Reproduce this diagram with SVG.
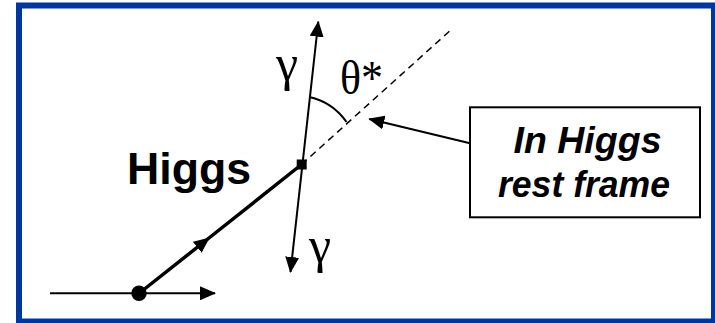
<svg xmlns="http://www.w3.org/2000/svg" width="715" height="323" viewBox="0 0 715 323">
<style>
.ln{stroke:#000;fill:none}
.sym{font-family:"Liberation Serif","Times New Roman",serif;fill:#000}
.lbl{font-family:"Liberation Sans",Arial,sans-serif;font-weight:bold;fill:#000}
</style>
<defs>
<marker id="ah" markerUnits="userSpaceOnUse" viewBox="0 0 16 14" refX="15" refY="7" markerWidth="16" markerHeight="14" orient="auto-start-reverse">
<path d="M0,0 L16,7 L0,14 z" fill="#000"/>
</marker>
</defs>
<rect x="0" y="0" width="715" height="323" fill="#fff"/>
<rect x="19" y="5.5" width="695" height="316" fill="none" stroke="#0036A0" stroke-width="6"/>
<g id="connectors">
<line class="ln" x1="50" y1="293.3" x2="215" y2="293.3" stroke-width="2" marker-end="url(#ah)"/>
<path class="ln" d="M139.5,293 L209,238 L301.5,164.5" stroke-width="3.5" marker-mid="url(#ah)"/>
<line class="ln" x1="290.5" y1="272" x2="318.3" y2="21.7" stroke-width="2" marker-start="url(#ah)" marker-end="url(#ah)"/>
<line class="ln" x1="301.5" y1="164.5" x2="452.7" y2="28.3" stroke-width="1.5" stroke-dasharray="7,5"/>
<path class="ln" d="M309.3,97 A 62 62 0 0 1 346.5,122" stroke-width="2"/>
<line class="ln" x1="470" y1="143.3" x2="369.3" y2="119" stroke-width="2" marker-end="url(#ah)"/>
</g>
<g id="source">
<circle cx="139" cy="293.3" r="7.7" fill="#000"/>
</g>
<g id="vertex">
<rect x="296.7" y="159.5" width="10" height="10" fill="#000"/>
</g>
<g id="labels">
<text class="lbl" x="127" y="183.5" font-size="45" textLength="124" lengthAdjust="spacingAndGlyphs">Higgs</text>
<text class="sym" x="276" y="80" font-size="50">γ</text>
<text class="sym" x="309" y="262" font-size="50">γ</text>
<text class="sym" x="340" y="93.5" font-size="49" textLength="43" lengthAdjust="spacingAndGlyphs">θ*</text>
</g>
<g id="callout">
<rect x="470" y="107.3" width="230" height="110" fill="#fff" stroke="#000" stroke-width="2"/>
<text class="lbl" x="587.5" y="153.3" font-size="36" font-style="italic" text-anchor="middle" textLength="148" lengthAdjust="spacingAndGlyphs">In Higgs</text>
<text class="lbl" x="584" y="196.7" font-size="36" font-style="italic" text-anchor="middle" textLength="172" lengthAdjust="spacingAndGlyphs">rest frame</text>
</g>
</svg>
